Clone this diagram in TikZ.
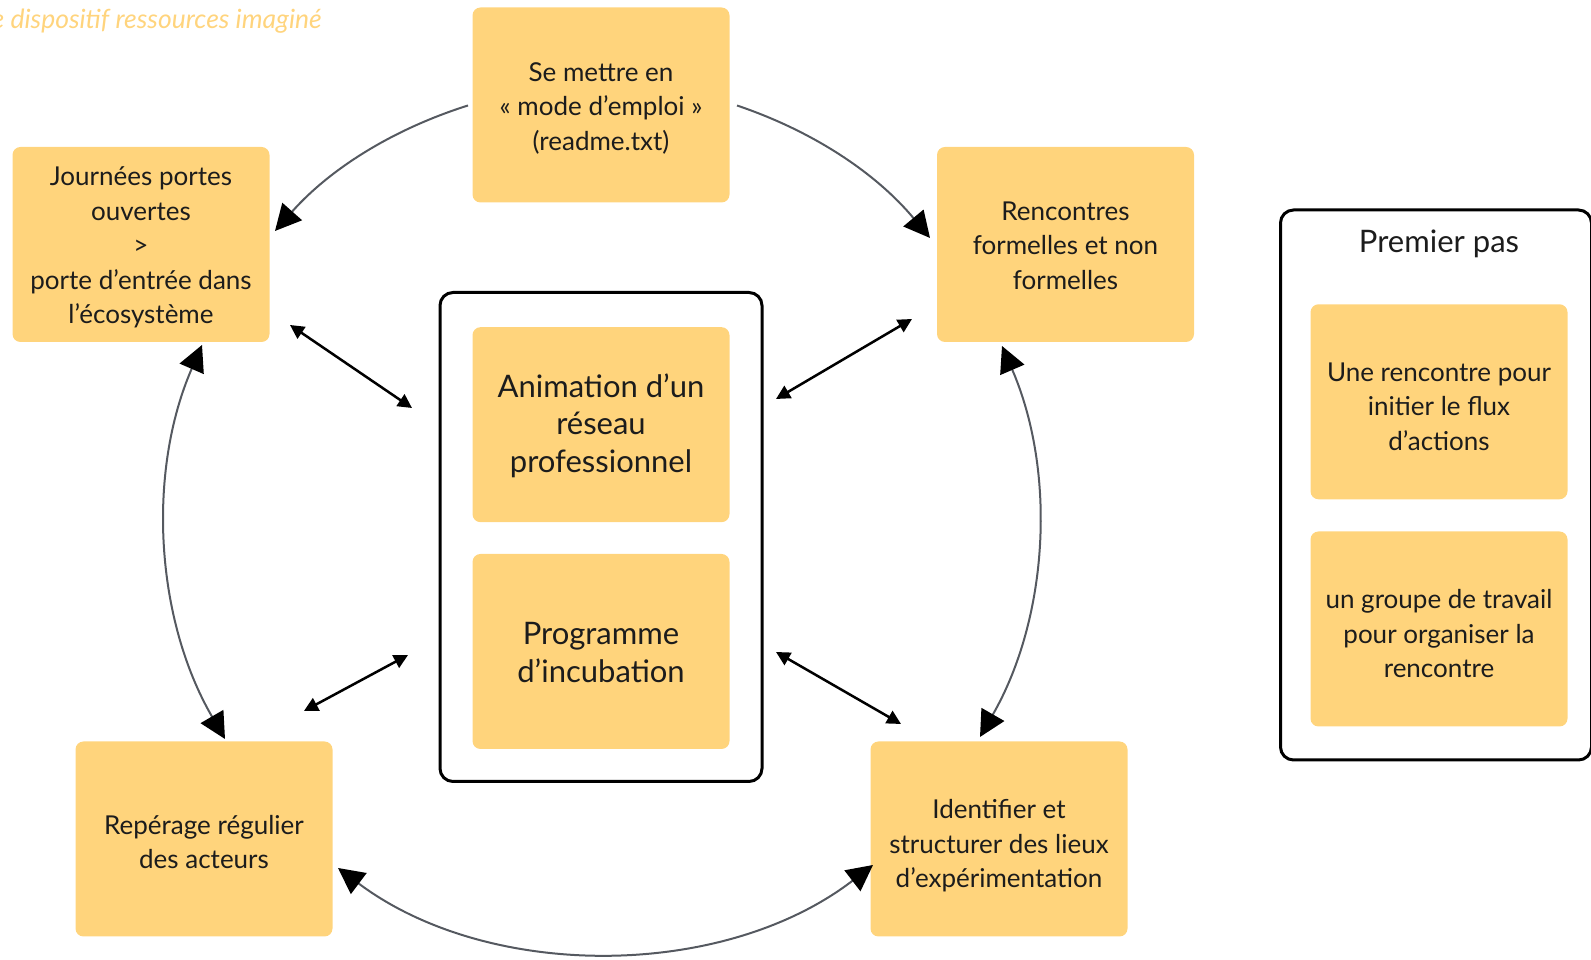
\documentclass[tikz,border=0pt]{standalone}
\usepackage{fontspec}
\setmainfont{Lato}
\usetikzlibrary{arrows.meta}
\definecolor{boxfill}{RGB}{255,212,124}
\definecolor{curvecol}{RGB}{85,89,96}
\definecolor{titlecol}{RGB}{255,212,125}
\definecolor{textcol}{RGB}{28,28,28}
\begin{document}
\begin{tikzpicture}[x=1pt,y=1pt,
  card/.style={fill=boxfill, rounded corners=8pt, minimum width=257pt, minimum height=195pt, inner sep=0pt},
  cardtext/.style={align=center, font=\fontsize{26}{34.5}\selectfont, text=textcol, inner sep=0pt, yshift=-3pt},
  bigtext/.style={cardtext, font=\fontsize{31}{37.5}\selectfont, yshift=2pt},
  frame/.style={draw=black, line width=3pt, rounded corners=13pt, inner sep=0pt},
  loopline/.style={draw=curvecol, line width=2pt, looseness=0.9},
  bighead/.style={-{Triangle[length=26pt,width=26pt,color=black]}},
  bigheads/.style={{Triangle[length=26pt,width=26pt,color=black]}-{Triangle[length=26pt,width=26pt,color=black]}},
  link/.style={draw=black, line width=2.5pt, {Triangle[length=14pt,width=14pt]}-{Triangle[length=14pt,width=14pt]}}
]
\useasboundingbox (0,0) rectangle (1591,960);

% title (cut off at the left, as in the reference)
\node[anchor=base east, inner sep=0pt, text=titlecol, font=\fontsize{26.5}{30}\selectfont\itshape] (title) at (322,931) {e dispositif ressources imaginé};

% frames
\node[frame, minimum width=322pt, minimum height=489pt] (center) at (601,423) {};
\node[frame, minimum width=311pt, minimum height=550pt] (premier) at (1436,475) {};
\node[font=\fontsize{31}{36}\selectfont, text=textcol] (ptitle) at (1439,716) {Premier pas};

% cards
\node[card, label={[cardtext]center:{Se mettre en\\« mode d’emploi »\\(readme.txt)}}] (top) at (601,855) {};
\node[card, label={[cardtext]center:{Journées portes\\ouvertes\\>\\porte d’entrée dans\\l’écosystème}}] (jpo) at (141,715.5) {};
\node[card, label={[cardtext, yshift=2pt]center:{Rencontres\\formelles et non\\formelles}}] (renc) at (1065.5,715.5) {};
\node[card, label={[cardtext]center:{Repérage régulier\\des acteurs}}] (rep) at (204,121) {};
\node[card, label={[cardtext, yshift=-4pt]center:{Identifier et\\structurer des lieux\\d’expérimentation}}] (ident) at (999,121) {};
\node[card, label={[bigtext]center:{Animation d’un\\réseau\\professionnel}}] (anim) at (601,535.3) {};
\node[card, label={[bigtext]center:{Programme\\d’incubation}}] (incub) at (601,308.5) {};
\node[card, label={[cardtext, yshift=-2pt]center:{Une rencontre pour\\initier le flux\\d’actions}}] (p1) at (1439,558.2) {};
\node[card, label={[cardtext, yshift=-2pt]center:{un groupe de travail\\pour organiser la\\rencontre}}] (p2) at (1439,331) {};

% curve end points
\coordinate (a1) at (468,854.5);
\coordinate (b1) at (275,729);
\coordinate (a2) at (737,854.5);
\coordinate (b2) at (930,722);
\coordinate (a3) at (1002,614);
\coordinate (b3) at (980,223);
\coordinate (a4) at (202,615);
\coordinate (b4) at (225,221);
\coordinate (a5) at (338,92);
\coordinate (b5) at (873,95);

\draw[loopline, bighead] (a1) to[bend right=15.5] (b1);
\draw[loopline, bighead] (a2) to[bend left=15.8] (b2);
\draw[loopline, bigheads] (a3) to[bend left=26.6] (b3);
\draw[loopline, bigheads] (a4) to[bend right=26.8] (b4);
\draw[loopline, bigheads] (a5) to[bend right=37.2] (b5);

% straight links
\coordinate (s1) at (290,635);
\coordinate (e1) at (412,552);
\coordinate (s2) at (912,641);
\coordinate (e2) at (776,561);
\coordinate (s3) at (408,305);
\coordinate (e3) at (304,249);
\coordinate (s4) at (776,308);
\coordinate (e4) at (901,236);
\draw[link] (s1) -- (e1);
\draw[link] (s2) -- (e2);
\draw[link] (s3) -- (e3);
\draw[link] (s4) -- (e4);
\end{tikzpicture}
\end{document}
